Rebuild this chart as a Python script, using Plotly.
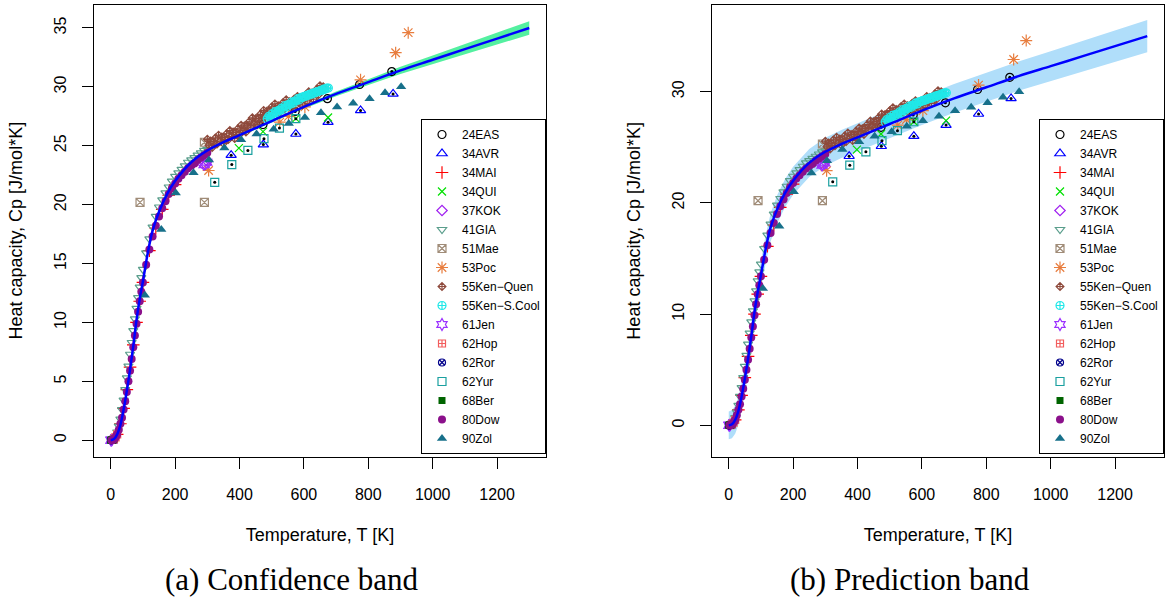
import plotly.graph_objects as go

# ---------------- data ----------------
fit_T = [0, 10, 20, 30, 40, 50, 60, 70, 80, 90, 100, 115, 130, 150, 175, 200, 250, 300, 350, 400,
         500, 600, 700, 800, 900, 1000, 1100, 1200, 1300]
fit_Cp = [0.0, 0.1, 0.5, 1.3, 2.6, 4.2, 6.0, 8.0, 10.2, 12.0, 13.5, 15.9, 17.8, 19.4, 20.9, 22.0, 23.6,
          24.6, 25.3, 25.9, 27.1, 28.3, 29.4, 30.4, 31.4, 32.3, 33.2, 34.1, 35.0]
conf_half = [0.12, 0.12, 0.12, 0.12, 0.12, 0.12, 0.12, 0.12, 0.12, 0.12, 0.12, 0.12, 0.12, 0.12, 0.12,
             0.12, 0.12, 0.12, 0.12, 0.12, 0.12, 0.15, 0.2, 0.25, 0.3, 0.36, 0.42, 0.5, 0.57]
pred_half = [1.25, 1.26, 1.26, 1.26, 1.26, 1.26, 1.26, 1.26, 1.26, 1.26, 1.26, 1.26, 1.26, 1.26, 1.26,
             1.26, 1.26, 1.26, 1.26, 1.27, 1.27, 1.28, 1.29, 1.3, 1.32, 1.35, 1.38, 1.42, 1.46]

EAS_T = [473, 573, 673, 773, 873]
EAS_Cp = [26.8, 27.9, 29.0, 30.2, 31.3]
AVR_T = [374, 474, 575, 675, 776, 877]
AVR_Cp = [24.2, 25.1, 26.0, 27.0, 28.0, 29.4]
MAI_T = [20, 30, 40, 50, 60, 70, 80, 90, 100, 120, 140, 160, 180, 200]
MAI_Cp = [0.5, 1.4, 2.7, 4.3, 6.2, 8.1, 10.0, 11.8, 13.4, 16.1, 18.0, 19.6, 20.8, 21.7]
QUI_T = [398, 473, 575, 675]
QUI_Cp = [24.8, 26.2, 27.3, 27.4]
KOK_T = [285, 295, 300]
KOK_Cp = [23.5, 23.4, 23.7]
GIA_T = [15, 20, 25, 30, 35, 40, 45, 50, 55, 60, 65, 70, 75, 80, 85, 90, 95, 100, 110, 120, 130, 140,
         150, 160, 170, 180, 190, 200, 210, 220, 230, 240, 250, 260, 270, 280, 290, 300]
GIA_Cp = [0.3, 0.7, 1.2, 1.8, 2.6, 3.4, 4.3, 5.3, 6.3, 7.3, 8.3, 9.3, 10.3, 11.2, 12.1, 13.0, 13.8, 14.5,
          15.9, 17.1, 18.1, 19.0, 19.8, 20.4, 21.0, 21.5, 22.0, 22.4, 22.7, 23.0, 23.3, 23.6, 23.8, 24.0,
          24.2, 24.4, 24.6, 24.7]
MAE_T = [91, 291, 291]
MAE_Cp = [20.2, 20.2, 25.3]
POC_T = [304, 525, 552, 603, 776, 885, 924]
POC_Cp = [22.9, 27.0, 27.5, 28.3, 30.6, 32.9, 34.6]
QUEN_T = [300, 305, 310, 315, 320, 325, 330, 335, 340, 345, 350, 355, 360, 365, 370, 375, 380, 385, 390,
          395, 400, 405, 410, 415, 420, 425, 430, 435, 440, 445, 450, 455, 460, 465, 470, 475, 480, 485,
          490, 495, 500, 505, 510, 515, 520, 525, 530, 535, 540, 545, 550, 555, 560, 565, 570, 575, 580,
          585, 590, 595, 600, 605, 610, 615, 620, 625, 630, 635, 640, 645, 650, 655, 660]
QUEN_Cp = [25.55, 25.05, 25.40, 24.85, 25.35, 25.65, 25.15, 25.90, 25.40, 25.75, 25.20, 25.71, 26.02,
           25.53, 26.29, 25.80, 26.16, 25.62, 26.13, 26.44, 25.95, 26.74, 26.28, 26.67, 26.16, 26.70,
           27.04, 26.58, 27.37, 26.91, 27.30, 26.79, 27.33, 27.67, 27.21, 28.00, 27.54, 27.93, 27.42,
           27.96, 28.30, 27.80, 28.55, 28.05, 28.40, 27.85, 28.35, 28.65, 28.15, 28.90, 28.40, 28.74,
           28.18, 28.67, 28.96, 28.45, 29.19, 28.68, 29.02, 28.46, 28.95, 29.28, 28.80, 29.58, 29.10,
           29.48, 28.95, 29.48, 29.80, 29.33, 30.10, 29.63, 30.00]
SCOOL_T = [486, 491, 496, 501, 506, 511, 516, 521, 526, 531, 536, 541, 546, 551, 556, 561, 566, 571, 576,
           581, 586, 591, 596, 601, 606, 611, 616, 621, 626, 631, 636, 641, 646, 651, 656, 661, 666, 671, 676]
SCOOL_Cp = [27.3, 27.5, 27.4, 27.7, 27.6, 27.9, 27.8, 28.0, 28.0, 28.2, 28.1, 28.4, 28.3, 28.5, 28.5, 28.7,
            28.6, 28.8, 28.8, 29.0, 28.9, 29.1, 29.1, 29.2, 29.2, 29.3, 29.3, 29.4, 29.4, 29.5, 29.5, 29.6,
            29.6, 29.7, 29.7, 29.8, 29.8, 29.9, 29.9]
JEN_T = [1, 2, 3, 290, 298]
JEN_Cp = [0.0, 0.0, 0.01, 23.4, 23.6]
HOP_T = [5, 10, 15, 20]
HOP_Cp = [0.02, 0.1, 0.25, 0.5]
ROR_T = [0.5, 1, 2, 3, 5]
ROR_Cp = [0.0, 0.0, 0.0, 0.0, 0.02]
YUR_T = [323, 376, 426, 476, 524, 575]
YUR_Cp = [21.9, 23.4, 24.6, 25.6, 26.5, 27.3]
BER_T = [0.5, 1, 2, 3, 4, 5, 6, 8, 10]
BER_Cp = [0.0, 0.0, 0.0, 0.0, 0.01, 0.02, 0.03, 0.05, 0.1]
DOW_T = [2, 4, 6, 8, 10, 12, 15, 18, 20, 25, 30, 35, 40, 45, 50, 55, 60, 65, 70, 75, 80, 85, 90, 95, 100,
         110, 120, 130, 140, 150, 160, 170, 180, 190, 200, 210, 220, 230, 240, 250, 260, 270, 280, 290, 300]
DOW_Cp = [0.0, 0.01, 0.02, 0.05, 0.1, 0.15, 0.25, 0.4, 0.5, 0.9, 1.4, 1.9, 2.6, 3.3, 4.1, 5.0, 5.9, 6.9,
          7.9, 8.9, 9.9, 10.9, 11.8, 12.6, 13.4, 14.9, 16.2, 17.3, 18.2, 19.0, 19.7, 20.3, 20.9, 21.4, 21.8,
          22.2, 22.5, 22.8, 23.1, 23.3, 23.5, 23.8, 24.0, 24.2, 24.4]
ZOL_T = [106, 157, 202, 257, 305, 353, 405, 453, 506, 553, 603, 653, 703, 753, 804, 852, 902]
ZOL_Cp = [12.3, 17.9, 21.0, 22.7, 23.8, 24.8, 25.5, 26.0, 26.4, 26.9, 27.4, 27.8, 28.3, 28.6, 29.0, 29.5, 30.0]

series_names = ["24EAS", "34AVR", "34MAI", "34QUI", "37KOK", "41GIA", "51Mae", "53Poc", "55Ken\u2212Quen",
                "55Ken\u2212S.Cool", "61Jen", "62Hop", "62Ror", "62Yur", "68Ber", "80Dow", "90Zol"]
series_T = [EAS_T, AVR_T, MAI_T, QUI_T, KOK_T, GIA_T, MAE_T, POC_T, QUEN_T, SCOOL_T, JEN_T, HOP_T,
            ROR_T, YUR_T, BER_T, DOW_T, ZOL_T]
series_Cp = [EAS_Cp, AVR_Cp, MAI_Cp, QUI_Cp, KOK_Cp, GIA_Cp, MAE_Cp, POC_Cp, QUEN_Cp, SCOOL_Cp, JEN_Cp,
             HOP_Cp, ROR_Cp, YUR_Cp, BER_Cp, DOW_Cp, ZOL_Cp]

# ---------------- styles ----------------
symbols = ["circle-open", "triangle-up-open", "cross-thin-open", "x-thin-open", "diamond-open",
           "triangle-down-open", "square-x-open", "asterisk-open", "diamond-cross-open",
           "circle-cross-open", "hexagram-open", "square-cross-open", "circle-x-open", "square-open",
           "square", "circle", "triangle-up"]
colors = ["#000000", "#0000FF", "#FF0000", "#00E000", "#A020F0", "#5A9E8C", "#A08C78", "#E87D3E",
          "#8E4A3C", "#20E8E8", "#9B30FF", "#F25C5C", "#00008B", "#1AA0A0", "#006400", "#8B108B", "#17708A"]
sizes = [8, 9, 9, 8, 8, 8, 8, 10, 6, 8, 9, 7, 7, 8, 7, 8, 9]

fig = go.Figure()

panels = [("x", "y", "legend", conf_half, "rgb(84,240,160)"),
          ("x2", "y2", "legend2", pred_half, "rgb(176,222,250)")]

for xa, ya, lg, half, bandcol in panels:
    lo = [c - h for c, h in zip(fit_Cp, half)]
    hi = [c + h for c, h in zip(fit_Cp, half)]
    fig.add_trace(go.Scatter(x=fit_T + fit_T[::-1], y=hi + lo[::-1], fill="toself",
                             fillcolor=bandcol, line=dict(width=0), mode="lines",
                             showlegend=False, hoverinfo="skip", xaxis=xa, yaxis=ya))
    for name, tx, cy, sym, col, sz in zip(series_names, series_T, series_Cp, symbols, colors, sizes):
        filled = not sym.endswith("open")
        fig.add_trace(go.Scatter(x=tx, y=cy, mode="markers", name=name, legend=lg,
                                 marker=dict(symbol=sym, color=col, size=sz,
                                             line=dict(width=0 if filled else 1.2, color=col)),
                                 xaxis=xa, yaxis=ya))
    fig.add_trace(go.Scatter(x=EAS_T + AVR_T + YUR_T, y=EAS_Cp + AVR_Cp + YUR_Cp, mode="markers",
                             marker=dict(color="black", size=3), showlegend=False,
                             hoverinfo="skip", xaxis=xa, yaxis=ya))
    fig.add_trace(go.Scatter(x=fit_T, y=fit_Cp, mode="lines", line=dict(color="#0000FF", width=2.5),
                             line_shape="spline", showlegend=False, xaxis=xa, yaxis=ya))

W, H = 1167, 599
font_tick = dict(family="Liberation Sans, Arial, sans-serif", size=16, color="black")
font_title = dict(family="Liberation Sans, Arial, sans-serif", size=18, color="black")

common_x = dict(range=[-52, 1352], tickvals=[0, 200, 400, 600, 800, 1000, 1200], ticks="outside",
                ticklen=11, tickwidth=1, tickcolor="black", showline=True, mirror=True, linecolor="black",
                linewidth=1, showgrid=False, zeroline=False, tickfont=font_tick, automargin=False,
                ticklabelstandoff=12,
                title=dict(text="Temperature, T [K]", font=font_title, standoff=26))
common_y = dict(ticks="outside", ticklen=11, tickwidth=1, tickcolor="black", showline=True, mirror=True,
                linecolor="black", linewidth=1, showgrid=False, zeroline=False, tickfont=font_tick,
                tickangle=-90, automargin=False, ticklabelstandoff=10,
                title=dict(text="Heat capacity, Cp [J/mol*K]", font=font_title, standoff=24))

ydom = [1 - 456.5 / H, 1 - 5 / H]
legend_common = dict(y=1 - 454 / H, yanchor="bottom", xanchor="right", bgcolor="white",
                     bordercolor="black", borderwidth=1,
                     font=dict(family="Liberation Sans, Arial", size=12, color="black"))
fig.update_layout(
    width=W, height=H, margin=dict(l=0, r=0, t=0, b=0),
    plot_bgcolor="white", paper_bgcolor="white",
    xaxis=dict(common_x, domain=[94 / W, 546 / W], anchor="y"),
    yaxis=dict(common_y, domain=ydom, range=[-1.38, 36.95], tickvals=[0, 5, 10, 15, 20, 25, 30, 35],
               anchor="x"),
    xaxis2=dict(common_x, domain=[712 / W, 1164 / W], anchor="y2"),
    yaxis2=dict(common_y, domain=ydom, range=[-2.8, 37.8], tickvals=[0, 10, 20, 30], anchor="x2"),
    legend=dict(legend_common, x=546 / W),
    legend2=dict(legend_common, x=1164 / W),
    annotations=[
        dict(text="(a) Confidence band", x=292 / W, y=1 - 579 / H, xref="paper", yref="paper",
             showarrow=False, xanchor="center", yanchor="middle",
             font=dict(family="Liberation Serif, Times New Roman, serif", size=31, color="black")),
        dict(text="(b) Prediction band", x=910 / W, y=1 - 579 / H, xref="paper", yref="paper",
             showarrow=False, xanchor="center", yanchor="middle",
             font=dict(family="Liberation Serif, Times New Roman, serif", size=31, color="black")),
    ],
)

fig.write_html("out.html")
